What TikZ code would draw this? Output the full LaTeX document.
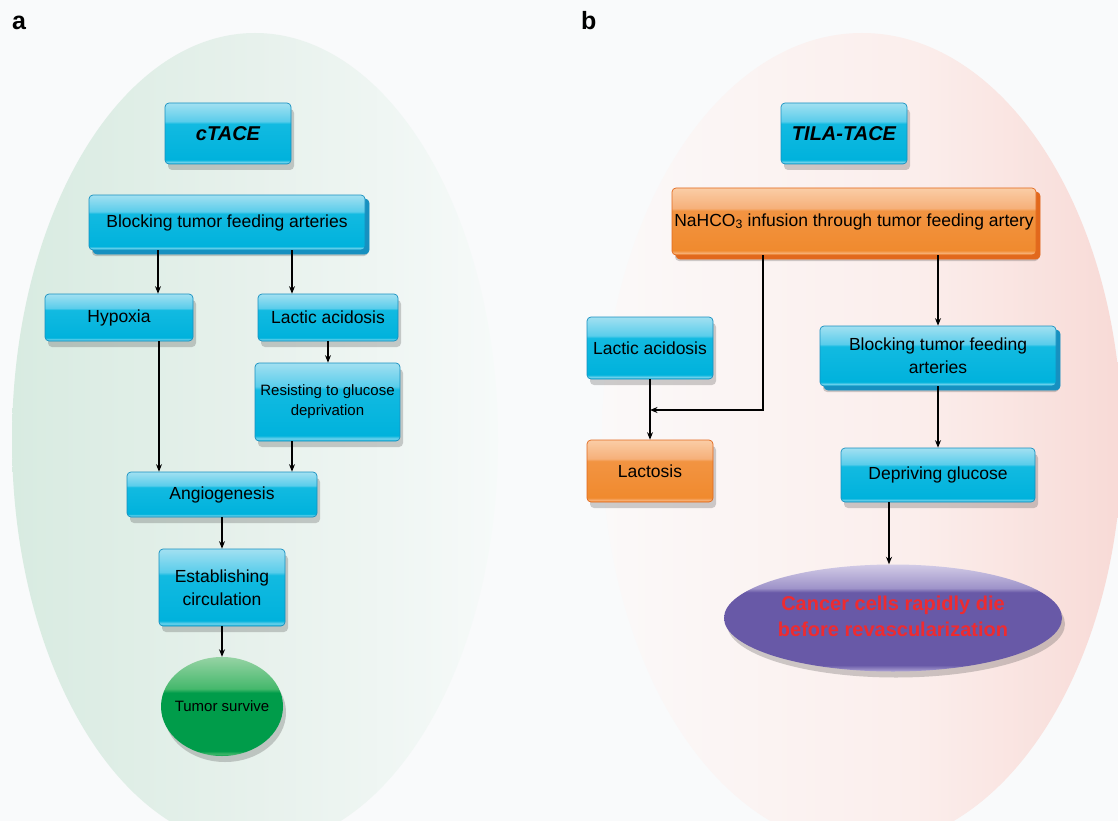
\documentclass[tikz,border=0pt]{standalone}
\usepackage{fontspec}
\setmainfont{Liberation Sans}
\usetikzlibrary{arrows.meta,shadows,shapes.geometric}

\definecolor{bg}{HTML}{F9FAFB}
\definecolor{cyB}{HTML}{00B2DC}
\definecolor{cyM}{HTML}{12BAE1}
\definecolor{cyBand}{HTML}{5ACDEB}
\definecolor{cyT}{HTML}{A2E0F1}
\definecolor{cyL}{HTML}{6FD2EC}
\definecolor{cyD}{HTML}{1790C0}
\definecolor{orB}{HTML}{F08A2E}
\definecolor{orM}{HTML}{F29442}
\definecolor{orBand}{HTML}{F6B07A}
\definecolor{orT}{HTML}{FACDA6}
\definecolor{orL}{HTML}{F7AE72}
\definecolor{orD}{HTML}{E2681C}
\definecolor{grB}{HTML}{009C4A}
\definecolor{grBand}{HTML}{45B86C}
\definecolor{grT}{HTML}{96D3A4}
\definecolor{puB}{HTML}{6859A7}
\definecolor{puBand}{HTML}{9E93C9}
\definecolor{puT}{HTML}{D2CBE6}
\definecolor{puL}{HTML}{B0A6D6}
\definecolor{redt}{HTML}{EE2B30}
\definecolor{gbgL}{HTML}{D8EBE1}
\definecolor{gbgM}{HTML}{E7F1EC}
\definecolor{gbgR}{HTML}{F6FAF9}
\definecolor{pbgL}{HTML}{FBF9F9}
\definecolor{pbgM}{HTML}{FBEEEC}
\definecolor{pbgR}{HTML}{F8DAD6}

\pgfdeclareverticalshading{cyanbox}{100bp}{color(0bp)=(cyB); color(25bp)=(cyB); color(26.5bp)=(cyL); color(28.5bp)=(cyB); color(58bp)=(cyM); color(60bp)=(cyBand); color(75bp)=(cyT); color(100bp)=(cyT)}
\pgfdeclareverticalshading{orangebox}{100bp}{color(0bp)=(orB); color(25bp)=(orB); color(26.5bp)=(orL); color(28.5bp)=(orB); color(58bp)=(orM); color(60bp)=(orBand); color(75bp)=(orT); color(100bp)=(orT)}
\pgfdeclareverticalshading{greenball}{100bp}{color(0bp)=(grB); color(25bp)=(grB); color(26bp)=(grBand); color(27.5bp)=(grB); color(57bp)=(grB); color(59bp)=(grBand); color(75bp)=(grT); color(100bp)=(grT)}
\pgfdeclareverticalshading{purpleball}{100bp}{color(0bp)=(puB); color(25bp)=(puL); color(28bp)=(puB); color(62bp)=(puB); color(64bp)=(puBand); color(75bp)=(puT); color(100bp)=(puT)}
\pgfdeclarehorizontalshading{greenbg}{100bp}{color(0bp)=(gbgL); color(25bp)=(gbgL); color(50bp)=(gbgM); color(75bp)=(gbgR); color(100bp)=(gbgR)}
\pgfdeclarehorizontalshading{pinkbg}{100bp}{color(0bp)=(pbgL); color(25bp)=(pbgL); color(55bp)=(pbgM); color(75bp)=(pbgR); color(100bp)=(pbgR)}

\tikzset{
  box/.style={rectangle, rounded corners=4pt, draw=cyD, line width=0.7pt,
    shade, shading=cyanbox, align=center, inner sep=0pt, text=black,
    font=\fontsize{17.5}{23}\selectfont,
    drop shadow={shadow xshift=3pt, shadow yshift=-6pt, opacity=0.25, fill=black!75}},
  obox/.style={box, draw=orD, shading=orangebox},
  deep/.style={general shadow={shadow xshift=4pt, shadow yshift=-4pt, fill=#1, draw=#1}},
  ball/.style={ellipse, inner sep=0pt, draw=none, shade,
    drop shadow={shadow xshift=3pt, shadow yshift=-6pt, opacity=0.25, fill=black!75}},
  arr/.style={-{Stealth[length=7.5pt,width=6pt]}, line width=1.1pt, black},
  panel/.style={font=\fontsize{25}{25}\selectfont\bfseries, anchor=base west, inner sep=0pt}
}

\begin{document}
\begin{tikzpicture}[x=1pt,y=-1pt]
\useasboundingbox (0,0) rectangle (1118,821);
\begin{scope}
  \clip (0,0) rectangle (1118,821);
  \fill[bg] (0,0) rectangle (1118,821);
  \shade[shading=greenbg] (255,440) ellipse [x radius=243pt, y radius=407pt];
  \shade[shading=pinkbg] (862,440) ellipse [x radius=260pt, y radius=407pt];
\end{scope}

\node[panel] (la) at (12,30) {a};
\node[panel] (lb) at (581,30) {b};

% ---------- panel a ----------
\node[box, minimum width=126pt, minimum height=61pt, font=\fontsize{20}{24}\selectfont\bfseries\itshape] (ctace) at (228,133.5) {cTACE};
\node[box, deep=cyD, minimum width=276pt, minimum height=55pt] (blk1) at (227,222.5) {Blocking tumor feeding arteries};
\node[box, minimum width=148pt, minimum height=47pt] (hyp) at (119,317.5) {Hypoxia};
\node[box, minimum width=140pt, minimum height=47pt] (lac1) at (328,317.5) {Lactic acidosis};
\node[box, minimum width=145pt, minimum height=78pt, font=\fontsize{15}{20}\selectfont] (res) at (327.5,402) {Resisting to glucose\\deprivation};
\node[box, minimum width=190pt, minimum height=45pt] (ang) at (222,494.5) {Angiogenesis};
\node[box, minimum width=126pt, minimum height=77pt] (est) at (222,587.5) {Establishing\\circulation};
\node[ball, shading=greenball, minimum width=122pt, minimum height=99pt, font=\fontsize{15}{18}\selectfont] (tum) at (222,706.5) {\makebox[0pt]{Tumor survive}};

\draw[arr] (blk1.south -| 158,0) -- (hyp.north -| 158,0);
\draw[arr] (blk1.south -| 292,0) -- (lac1.north -| 292,0);
\draw[arr] (lac1.south) -- (lac1.south |- res.north);
\draw[arr] (hyp.south -| 159,0) -- (ang.north -| 159,0);
\draw[arr] (res.south -| 292,0) -- (ang.north -| 292,0);
\draw[arr] (ang.south) -- (est.north);
\draw[arr] (est.south) -- (tum.north);

% ---------- panel b ----------
\node[box, minimum width=126pt, minimum height=61pt, font=\fontsize{20}{24}\selectfont\bfseries\itshape] (tila) at (844,133.5) {TILA-TACE};
\node[obox, deep=orD, minimum width=364pt, minimum height=67pt] (nahco) at (854,221.5) {NaHCO\textsubscript{3} infusion through tumor feeding artery};
\node[box, minimum width=126pt, minimum height=62pt] (lac2) at (650,348) {Lactic acidosis};
\node[box, deep=cyD, minimum width=236pt, minimum height=60pt] (blk2) at (938,356) {Blocking tumor feeding\\arteries};
\node[obox, minimum width=126pt, minimum height=62pt] (lcts) at (650,471) {Lactosis};
\node[box, minimum width=194pt, minimum height=54pt] (dep) at (938,475) {Depriving glucose};
\node[ball, shading=purpleball, minimum width=338pt, minimum height=107pt, text=redt, font=\fontsize{20}{26}\selectfont\bfseries] (can) at (893,618) {\makebox[0pt]{\begin{tabular}{@{}c@{}}Cancer cells rapidly die\\before revascularization\end{tabular}}};

\coordinate (j) at (lac2.south |- 0,410);
\draw[arr] (nahco.south -| 763,0) |- (j);
\draw[arr] (lac2.south) -- (lcts.north);
\draw[arr] (nahco.south -| 938,0) -- (blk2.north -| 938,0);
\draw[arr] (blk2.south -| 938,0) -- (dep.north -| 938,0);
\draw[arr] (dep.south -| 889,0) -- (can.north -| 889,0);
\end{tikzpicture}
\end{document}
